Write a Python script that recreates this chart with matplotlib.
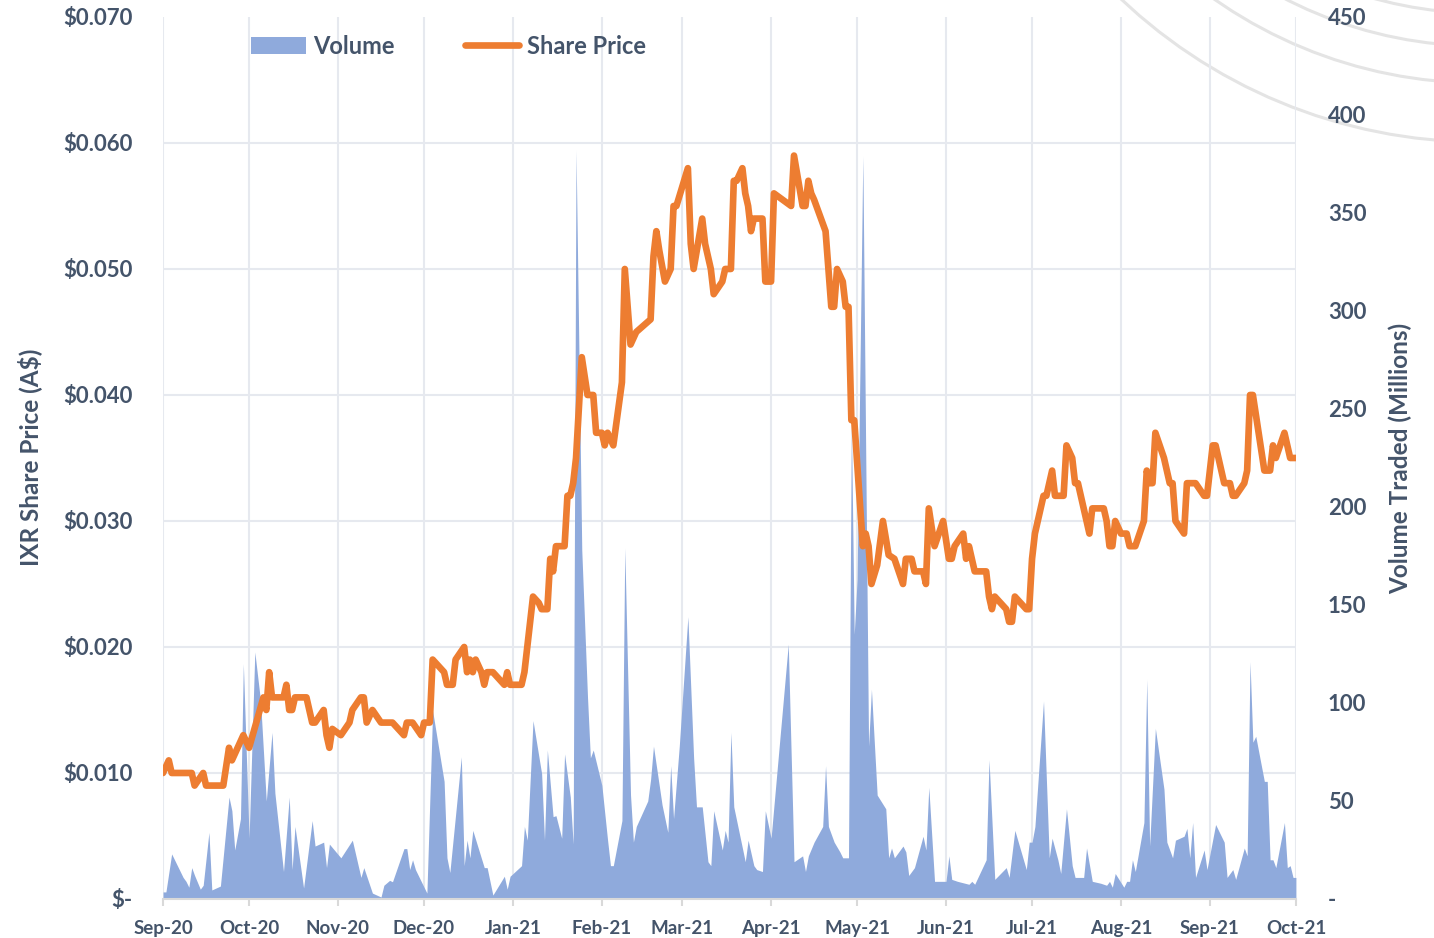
import matplotlib
matplotlib.use("Agg")
import matplotlib.pyplot as plt
import matplotlib.dates as mdates
from matplotlib.patches import Circle, Patch
from matplotlib.lines import Line2D
from matplotlib.ticker import FuncFormatter, FixedLocator
import numpy as np
import pandas as pd

plt.rcParams['font.family'] = ['Lato', 'DejaVu Sans']
plt.rcParams['font.weight'] = 'bold'

TXT = '#44546A'
ORANGE = '#ED7D31'
BLUE = '#8FAADC'
GRID = '#E6E9EF'

start = pd.Timestamp("2020-09-01")
end = pd.Timestamp("2021-10-01")

# share price, days counted from 1 Sep 2020
price_day = [0, 2, 3, 10, 11, 14, 15, 21, 23, 24, 28, 30, 35, 36, 37, 38, 42, 43, 44, 45,
             46, 50, 52, 53, 56, 57, 58, 59, 62, 65, 66, 69, 70, 71, 73, 76, 80, 84, 85, 87,
             90, 91, 93, 94, 98, 99, 101, 102, 105, 106, 107, 108, 109, 111, 112, 113, 115, 119, 120, 121,
             125, 126, 129, 131, 132, 134, 135, 136, 137, 140, 141, 142, 143, 144, 145, 146, 148, 150, 151, 153,
             154, 155, 157, 160, 161, 163, 165, 170, 171, 172, 173, 175, 177, 178, 179, 183, 184, 185, 188, 189,
             191, 192, 195, 196, 198, 199, 200, 202, 203, 204, 205, 206, 209, 210, 212, 213, 219, 220, 223, 224,
             225, 226, 227, 231, 233, 234, 235, 237, 238, 239, 240, 241, 244, 245, 246, 247, 249, 251, 253, 255,
             258, 259, 261, 262, 265, 266, 267, 269, 272, 274, 275, 276, 279, 280, 281, 283, 287, 288, 289, 290,
             294, 295, 296, 297, 301, 302, 303, 304, 307, 308, 310, 311, 314, 315, 317, 318, 319, 321, 323, 324,
             328, 329, 330, 331, 332, 334, 336, 337, 339, 342, 343, 344, 345, 346, 349, 351, 352, 353, 356, 357,
             360, 363, 364, 366, 367, 370, 372, 373, 374, 377, 378, 379, 380, 382, 384, 386, 387, 388, 391, 393,
             395]
price = [0.010, 0.011, 0.010, 0.010, 0.009, 0.010, 0.009, 0.009, 0.012, 0.011, 0.013, 0.012, 0.016, 0.015, 0.018, 0.016, 0.016, 0.017, 0.015, 0.015,
         0.016, 0.016, 0.014, 0.014, 0.015, 0.013, 0.012, 0.0135, 0.013, 0.014, 0.015, 0.016, 0.016, 0.014, 0.015, 0.014, 0.014, 0.013, 0.014, 0.014,
         0.013, 0.014, 0.014, 0.019, 0.018, 0.017, 0.017, 0.019, 0.020, 0.018, 0.019, 0.018, 0.019, 0.018, 0.017, 0.018, 0.018, 0.017, 0.018, 0.017,
         0.017, 0.018, 0.024, 0.0235, 0.023, 0.023, 0.027, 0.026, 0.028, 0.028, 0.032, 0.032, 0.033, 0.035, 0.039, 0.043, 0.040, 0.040, 0.037, 0.037,
         0.036, 0.037, 0.036, 0.041, 0.050, 0.044, 0.045, 0.046, 0.051, 0.053, 0.0515, 0.049, 0.050, 0.055, 0.055, 0.058, 0.052, 0.050, 0.054, 0.052,
         0.050, 0.048, 0.049, 0.050, 0.050, 0.057, 0.057, 0.058, 0.056, 0.055, 0.053, 0.054, 0.054, 0.049, 0.049, 0.056, 0.055, 0.059, 0.055, 0.055,
         0.057, 0.056, 0.0555, 0.053, 0.047, 0.047, 0.050, 0.049, 0.047, 0.047, 0.038, 0.038, 0.028, 0.029, 0.028, 0.025, 0.0265, 0.030, 0.0273, 0.027,
         0.025, 0.027, 0.027, 0.026, 0.026, 0.025, 0.031, 0.028, 0.030, 0.027, 0.027, 0.028, 0.029, 0.027, 0.028, 0.026, 0.026, 0.024, 0.023, 0.024,
         0.023, 0.022, 0.022, 0.024, 0.023, 0.023, 0.027, 0.029, 0.032, 0.032, 0.034, 0.032, 0.032, 0.036, 0.035, 0.033, 0.033, 0.031, 0.029, 0.031,
         0.031, 0.030, 0.028, 0.028, 0.030, 0.029, 0.029, 0.028, 0.028, 0.030, 0.034, 0.033, 0.033, 0.037, 0.035, 0.033, 0.033, 0.030, 0.029, 0.033,
         0.033, 0.032, 0.032, 0.036, 0.036, 0.033, 0.033, 0.032, 0.032, 0.033, 0.034, 0.040, 0.040, 0.037, 0.034, 0.034, 0.036, 0.035, 0.037, 0.035,
         0.035]

# volume traded (millions), days counted from 1 Sep 2020
vol_day = [0, 1, 3, 7, 8, 9, 10, 11, 13, 14, 16, 17, 20, 23, 24, 25, 27, 28, 30, 32,
           34, 36, 38, 39, 42, 44, 45, 46, 49, 52, 53, 56, 57, 58, 62, 66, 69, 70, 73, 76,
           77, 79, 80, 84, 85, 86, 87, 88, 92, 94, 98, 99, 100, 104, 105, 106, 107, 108, 112, 113,
           115, 119, 120, 121, 125, 126, 127, 129, 132, 133, 134, 136, 137, 139, 140, 142, 143, 144, 146, 148,
           149, 150, 153, 155, 156, 157, 160, 161, 163, 164, 165, 169, 170, 171, 174, 176, 177, 178, 180, 183,
           185, 186, 188, 190, 191, 192, 195, 196, 197, 198, 199, 203, 204, 206, 207, 209, 210, 212, 218, 220,
           223, 224, 225, 227, 230, 231, 232, 234, 236, 237, 239, 240, 241, 242, 244, 246, 247, 249, 252, 253,
           254, 255, 258, 259, 260, 262, 265, 266, 267, 269, 273, 274, 275, 277, 281, 282, 283, 287, 288, 290,
           294, 295, 297, 301, 302, 303, 304, 307, 309, 310, 312, 313, 315, 317, 318, 321, 322, 324, 327, 329,
           330, 331, 332, 335, 336, 337, 338, 339, 342, 343, 344, 346, 349, 350, 352, 353, 356, 357, 358, 359,
           360, 363, 364, 367, 370, 371, 373, 374, 377, 378, 379, 380, 381, 384, 385, 386, 387, 388, 391, 392,
           393, 394, 395]
volume = [3.6, 3.6, 23, 11, 9, 6, 16, 12, 5, 7, 34, 4.6, 6.6, 52, 45, 25, 41, 120, 31, 126,
          101, 50, 85, 54, 14, 52, 15, 37, 5.6, 40, 27, 29, 16, 28, 21, 30, 11, 16, 3, 1,
          7, 9.5, 8.8, 25.7, 25.7, 15, 20, 15, 3, 96, 60, 21, 13.5, 72.5, 17, 30, 21, 35, 16, 16,
          2, 11.6, 5, 11.6, 17, 37, 30, 91, 64, 30, 76, 42, 42.5, 31, 74, 52, 28, 382, 178, 103,
          72, 76, 58, 30, 17, 17, 40, 179, 53, 29, 37, 50, 61, 78, 48, 34, 68, 41, 78, 144,
          72, 47, 47, 19, 17, 45, 25, 35, 29, 85, 47, 19, 30, 17, 15, 14, 45, 31, 130, 19,
          22, 14, 22, 29, 37, 68, 37, 29, 24, 21, 21, 244, 135, 163, 379, 78, 107, 53, 46, 21,
          26, 21, 27, 24, 12, 16, 32, 25, 57, 9, 9, 22, 10, 9, 7.5, 9, 7.5, 20, 71, 10,
          16, 11, 35, 15, 29, 29, 37, 101, 21, 31, 20, 13, 46, 17, 11, 11, 26, 9, 8, 7,
          9, 6, 13, 6, 9, 9, 20, 14, 39, 112, 27, 87, 56, 29, 21, 30, 32, 36, 21, 39,
          11, 25, 15, 38, 29, 11, 15, 10, 26, 22, 121, 80, 83, 60, 60, 20, 20, 16, 39, 16,
          17, 11, 11]

assert len(price_day) == len(price), (len(price_day), len(price))
assert len(vol_day) == len(volume), (len(vol_day), len(volume))

price_dates = start + pd.to_timedelta(price_day, unit="D")
vol_dates = start + pd.to_timedelta(vol_day, unit="D")

price_ticks = np.arange(0, 0.0701, 0.01)
vol_ticks = np.arange(0, 451, 50)

fig = plt.figure(figsize=(14.34, 9.38), dpi=100)

# faint background arcs (top right corner decoration)
for r in [5.22, 4.63, 4.26, 3.93]:
    fig.patches.append(Circle((14.80, 13.18), r, transform=fig.dpi_scale_trans,
                              fill=False, ec='#E4E4E4', lw=2.2, zorder=-1))

ax_vol = fig.add_axes([0.1137, 0.0416, 0.790, 0.9403])
ax_vol.set_facecolor('none')
ax_vol.fill_between(vol_dates, volume, 0, color=BLUE, lw=0)
ax_vol.set_ylim(0, 450)
ax_vol.set_xlim(start, end)

ax_price = ax_vol.twinx()
ax_vol.yaxis.tick_right()
ax_vol.yaxis.set_label_position('right')
ax_price.yaxis.tick_left()
ax_price.yaxis.set_label_position('left')

ax_price.plot(price_dates, price, color=ORANGE, lw=4.8,
              solid_joinstyle='round', solid_capstyle='round')
ax_price.set_ylim(0, 0.07)

# grid: months vertically, price steps horizontally
ax_vol.set_axisbelow(True)
ax_vol.xaxis.set_major_locator(mdates.MonthLocator())
ax_vol.xaxis.set_major_formatter(mdates.DateFormatter('%b-%y'))
ax_vol.grid(axis='x', which='major', color=GRID, lw=1.5)
ax_vol.yaxis.set_minor_locator(FixedLocator(price_ticks * 450 / 0.07))
ax_vol.grid(axis='y', which='minor', color=GRID, lw=1.5)
ax_vol.grid(axis='y', which='major', visible=False)

ax_vol.set_yticks(vol_ticks)
ax_vol.yaxis.set_major_formatter(FuncFormatter(lambda v, p: '-' if v == 0 else f'{v:.0f}'))
ax_price.set_yticks(price_ticks)
ax_price.yaxis.set_major_formatter(FuncFormatter(lambda v, p: '$-' if v == 0 else f'${v:.3f}'))

ax_vol.tick_params(axis='y', which='both', length=0, pad=23, labelsize=16, labelcolor=TXT)
ax_price.tick_params(axis='y', length=0, pad=22, labelsize=16, labelcolor=TXT)
ax_vol.tick_params(axis='x', length=5, width=1.5, color='#D9D9D9', pad=10,
                   labelsize=13.5, labelcolor=TXT)

for a in (ax_vol, ax_price):
    for s in a.spines.values():
        s.set_visible(False)
ax_vol.spines['bottom'].set_visible(True)
ax_vol.spines['bottom'].set_color('#D9D9D9')
ax_vol.spines['bottom'].set_linewidth(1.5)

fig.text(0.0209, 0.512, 'IXR Share Price (A$)', rotation=90, ha='center', va='center',
         fontsize=17.5, color=TXT)
fig.text(0.9763, 0.511, 'Volume Traded (Millions)', rotation=90, ha='center', va='center',
         fontsize=17.5, color=TXT)

handles = [Patch(facecolor=BLUE, edgecolor='none'),
           Line2D([], [], color=ORANGE, lw=4.8, solid_capstyle='round')]
leg = ax_price.legend(handles, ['Volume', 'Share Price'], loc='center',
                      bbox_to_anchor=(0.252, 0.967), ncol=2, frameon=False, fontsize=17,
                      handlelength=2.3, columnspacing=3.0, handletextpad=0.3)
for t in leg.get_texts():
    t.set_color(TXT)

fig.savefig('out.png', dpi=100)
